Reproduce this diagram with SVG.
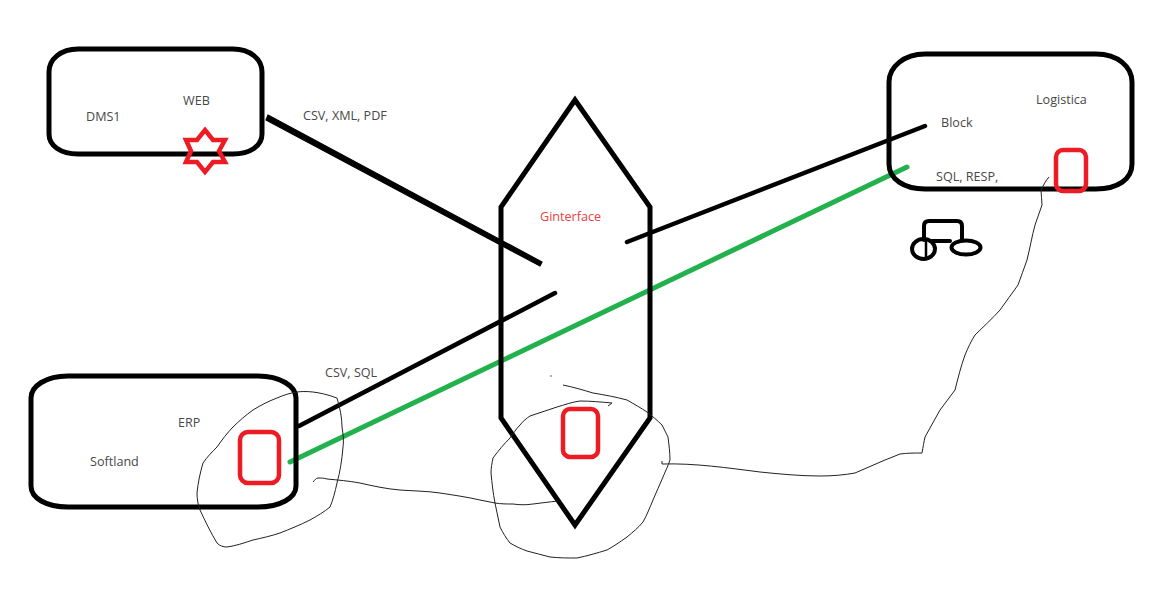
<svg xmlns="http://www.w3.org/2000/svg" width="1156" height="591" viewBox="0 0 1156 591">
<style>
.box{fill:none;stroke:#000;stroke-width:5}
.red{fill:none;stroke:#ed1c24;stroke-width:4.5}
.t{font-family:"Open Sans","Liberation Sans",sans-serif;font-size:12.6px;fill:#484848}
.thin{fill:none;stroke:#222;stroke-width:1;stroke-linejoin:round}
.k{fill:none;stroke:#000;stroke-linecap:round}
</style>
<rect width="1156" height="591" fill="#fff"/>
<g id="connectors">
<path d="M268 115L542 262L540 266L266 120Z" fill="#000" stroke="#000" stroke-width="1.2"/>
<path class="k" stroke-width="4.5" d="M627 242L925 126"/>
<path class="k" stroke-width="4.5" d="M299 426L555 293"/>
<path class="k" style="stroke:#22b14c" stroke-width="5" d="M290 462L907 167"/>
</g>
<g id="node-dms1">
<path class="box" d="M78 49H233C250 49 262 59 262 72V134C262 146 250 154 233 154H78C61 154 49 146 49 134V72C49 59 61 49 78 49Z"/>
<path class="red" d="M205 130L213 140H225L219 151L225 162H213L205 172L197 162H186L191 151L186 140H197Z"/>
<text class="t" x="86" y="121">DMS1</text>
<text class="t" x="183" y="105">WEB</text>
</g>
<g id="node-erp">
<path class="box" d="M68 376H258C280 376 296 386 296 398V486C296 498 280 507 258 507H68C46 507 31 498 31 486V398C31 386 46 376 68 376Z"/>
<rect class="red" x="240" y="432" width="39" height="51" rx="8"/>
<text class="t" x="178" y="427">ERP</text>
<text class="t" x="90" y="466">Softland</text>
</g>
<g id="node-ginterface">
<path class="box" d="M575 100L650 207V418L575 525L501 418V207Z"/>
<rect class="red" x="563" y="409" width="35" height="48" rx="7"/>
<text x="540" y="221" style="font-family:'Open Sans','Liberation Sans',sans-serif;font-size:12.6px;fill:#ed4040">Ginterface</text>
</g>
<g id="node-logistica">
<path class="box" d="M925 54H1096C1118 54 1132 67 1132 82V164C1132 179 1118 189 1096 189H925C904 189 889 179 889 164V82C889 67 904 54 925 54Z"/>
<rect class="red" x="1056" y="150" width="30" height="41" rx="7"/>
<text class="t" x="1036" y="104">Logistica</text>
<text class="t" x="941" y="127">Block</text>
<text class="t" x="936" y="181">SQL, RESP,</text>
</g>
<g id="labels">
<text class="t" x="303" y="120">CSV, XML, PDF</text>
<text class="t" x="325" y="377">CSV, SQL</text>
</g>
<g id="sketch">
<path class="k" stroke-width="4" d="M924 240V226Q924 221 929 221H957Q962 221 962 226V240M932 241H950"/>
<ellipse class="k" stroke-width="4" cx="923.500" cy="249" rx="11.500" ry="10"/>
<path class="k" stroke-width="2.500" d="M926 240V258"/>
<ellipse class="k" stroke-width="4" cx="966" cy="247.500" rx="14.500" ry="7"/>
<path class="thin" d="M297 392C305 391 318 391 337 398C340 408 342 418 342 427C343 434 344 440 343 447C342 460 340 472 337 483C335 492 333 500 330 507C324 512 317 516 310 520C300 525 290 529 280 533C271 536 262 538 253 540C244 543 235 546 227 547C223 547 220 546 217 543C211 533 205 521 200 510C198 505 197 499 197 493C198 483 200 473 203 463C207 457 212 452 217 447C222 440 227 433 233 427C239 421 246 415 253 410C261 405 269 401 277 398C284 395 290 393 297 392"/>
<path class="thin" d="M313 482C315 480 316 478 318 478C321 478 324 478 327 479C338 480 349 481 360 483C373 486 387 489 400 490C413 491 427 491 440 493C453 495 467 497 480 500C485 501 490 502 495 503C501 504 507 504 513 504C520 505 526 505 533 504C541 503 549 502 558 501"/>
<path class="thin" d="M563 385C573 387 583 390 593 393C605 395 616 397 627 400C634 404 641 408 647 412C652 416 657 420 662 425C664 429 666 433 668 437C669 445 670 453 670 460C668 466 665 472 663 477C660 485 656 492 653 500C650 507 647 515 643 522C638 528 633 532 627 537C620 542 614 546 607 550C597 553 587 556 577 558C568 558 559 558 550 557C542 555 535 553 527 551C521 549 515 546 510 543C506 538 503 533 500 527C498 519 497 511 495 503C493 493 492 483 491 473C491 468 492 463 493 458C498 451 504 444 510 438C513 434 516 429 520 425C523 421 527 418 530 416C539 413 548 410 557 407C564 405 572 402 580 401C590 401 601 402 612 403L608 406"/>
<path class="thin" d="M662 461V464C695 463 728 468 760 472C780 474 800 476 820 476C832 476 844 475 855 473C865 469 875 464 885 460C890 458 895 456 900 454C907 453 915 453 922 453C923 447 924 442 925 437C930 428 935 419 940 410C945 403 950 397 955 390C958 378 961 366 965 355C968 348 971 341 975 335C983 327 992 319 1000 310C1006 302 1012 293 1018 285C1021 277 1024 268 1027 260C1030 248 1032 236 1035 225C1037 218 1040 212 1042 205C1042 200 1041 195 1041 190C1043 186 1046 180 1049 177"/>
<circle cx="551" cy="376" r="0.7" fill="#222"/>
</g>
</svg>
